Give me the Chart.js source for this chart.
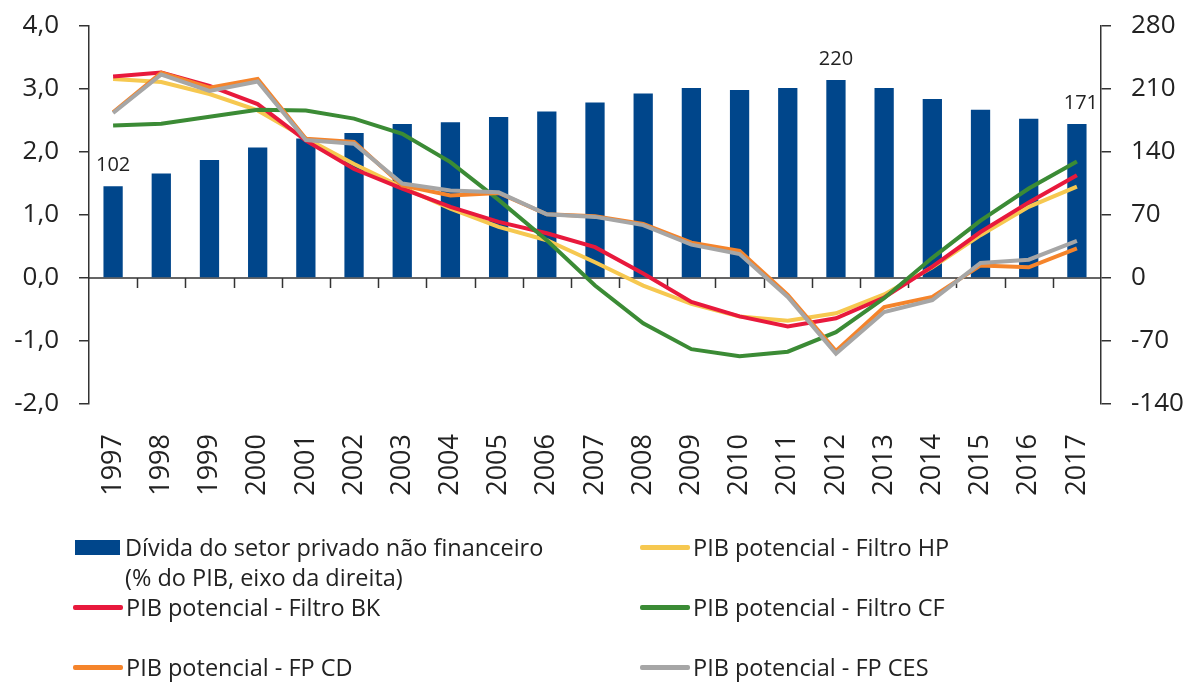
<!DOCTYPE html>
<html>
<head>
<meta charset="utf-8">
<script src="https://cdn.jsdelivr.net/npm/chart.js@4.4.1/dist/chart.umd.min.js"></script>
<style>
  html, body { margin: 0; padding: 0; background: #fff; }
  #wrap { position: relative; width: 1197px; height: 682px; }
  #legend { position: absolute; left: 0; top: 0; width: 1197px; height: 682px; pointer-events: none;
            font-family: 'Open Sans', sans-serif; font-size: 23.5px; color: #222; }
  .item { position: absolute; display: flex; align-items: center; white-space: nowrap; }
  .swatch { display: inline-block; margin-right: 3px; }
  .sub { position: absolute; white-space: nowrap; }
</style>
</head>
<body>
<div id="wrap">
  <canvas id="chart" width="1197" height="682"></canvas>
  <div id="legend"></div>
</div>
<script>
// --- data ---
const years = ['1997', '1998', '1999', '2000', '2001', '2002', '2003', '2004', '2005', '2006', '2007',
               '2008', '2009', '2010', '2011', '2012', '2013', '2014', '2015', '2016', '2017'];

// % do PIB (eixo da direita)
const debtValues = [102, 116, 131, 145, 155, 161, 171, 173, 179, 185, 195,
                    205, 211, 209, 211, 220, 211, 199, 187, 177, 171];

const hpValues  = [3.16, 3.11, 2.92, 2.66, 2.22, 1.81, 1.44, 1.10, 0.81, 0.60, 0.25,
                   -0.12, -0.41, -0.61, -0.68, -0.56, -0.26, 0.17, 0.68, 1.13, 1.45];
const bkValues  = [3.20, 3.26, 3.05, 2.76, 2.18, 1.73, 1.42, 1.13, 0.89, 0.71, 0.49,
                   0.07, -0.38, -0.61, -0.77, -0.64, -0.31, 0.18, 0.73, 1.20, 1.63];
const cfValues  = [2.42, 2.45, 2.56, 2.67, 2.66, 2.53, 2.29, 1.84, 1.24, 0.60, -0.12,
                   -0.72, -1.13, -1.24, -1.17, -0.86, -0.32, 0.32, 0.91, 1.42, 1.85];
const cdValues  = [2.63, 3.26, 3.02, 3.16, 2.21, 2.16, 1.47, 1.31, 1.35, 1.01, 0.98,
                   0.86, 0.56, 0.43, -0.27, -1.16, -0.46, -0.30, 0.20, 0.17, 0.47];
const cesValues = [2.62, 3.23, 2.97, 3.12, 2.19, 2.13, 1.50, 1.39, 1.36, 1.01, 0.97,
                   0.84, 0.53, 0.38, -0.30, -1.20, -0.54, -0.35, 0.24, 0.29, 0.59];

const leftTicks  = [-2, -1, 0, 1, 2, 3, 4];
const rightTicks = [-140, -70, 0, 70, 140, 210, 280];
const labelledBars = [0, 15, 20]; // 1997, 2012, 2017 carry a value label

const FONT = "'Open Sans', sans-serif";
const AXIS = '#333333';
const TEXT = '#222222';

// zero line with the little category ticks hanging under it
const zeroLinePlugin = {
  id: 'zeroLine',
  beforeDatasetsDraw(chart) {
    const { ctx, chartArea, scales } = chart;
    const y0 = scales.y.getPixelForValue(0);
    const half = (scales.x.getPixelForValue(1) - scales.x.getPixelForValue(0)) / 2;
    ctx.save();
    ctx.strokeStyle = AXIS;
    ctx.lineWidth = 1.5;
    ctx.beginPath();
    ctx.moveTo(chartArea.left, y0);
    ctx.lineTo(chartArea.right, y0);
    for (let i = 0; i < years.length - 1; i++) {
      const x = Math.round(scales.x.getPixelForValue(i) + half) + 0.5;
      ctx.moveTo(x, y0);
      ctx.lineTo(x, y0 + 10);
    }
    ctx.stroke();
    ctx.restore();
  }
};

// value labels over a few bars
const barLabelPlugin = {
  id: 'barLabels',
  afterDatasetsDraw(chart) {
    const { ctx } = chart;
    const meta = chart.getDatasetMeta(0);
    ctx.save();
    ctx.fillStyle = TEXT;
    ctx.font = `20px ${FONT}`;
    ctx.textAlign = 'center';
    ctx.textBaseline = 'alphabetic';
    labelledBars.forEach(i => {
      const bar = meta.data[i];
      ctx.fillText(String(debtValues[i]), bar.x + (i === 20 ? 4 : 0), bar.y - 15);
    });
    ctx.restore();
  }
};

const lineDefaults = { type: 'line', yAxisID: 'y', borderWidth: 4, pointRadius: 0,
                       pointHoverRadius: 0, tension: 0, fill: false };

const datasets = [
  { type: 'bar', label: 'Dívida do setor privado não financeiro', sub: '(% do PIB, eixo da direita)',
    data: debtValues, yAxisID: 'y1', backgroundColor: '#00468b', borderWidth: 0,
    categoryPercentage: 1, barPercentage: 0.4, order: 10 },
  { ...lineDefaults, label: 'PIB potencial - Filtro HP', data: hpValues, borderColor: '#f6c850', order: 5 },
  { ...lineDefaults, label: 'PIB potencial - Filtro BK', data: bkValues, borderColor: '#e8193c', order: 4 },
  { ...lineDefaults, label: 'PIB potencial - Filtro CF', data: cfValues, borderColor: '#3b8b35', order: 3 },
  { ...lineDefaults, label: 'PIB potencial - FP CD', data: cdValues, borderColor: '#f5842b', order: 2 },
  { ...lineDefaults, label: 'PIB potencial - FP CES', data: cesValues, borderColor: '#a6a6a6', order: 1 }
];

// y axes: fixed widths, no extra room for half tick labels
function fitY(width) {
  return s => { s.width = width; s.paddingTop = 0; s.paddingBottom = 0; };
}

const ctx = document.getElementById('chart').getContext('2d');
const chart = new Chart(ctx, {
  data: { labels: years, datasets },
  options: {
    responsive: false,
    animation: false,
    layout: { padding: { top: 26, left: 0, right: 0, bottom: 0 } },
    plugins: { legend: { display: false }, tooltip: { enabled: false } },
    scales: {
      x: {
        type: 'category',
        offset: true,
        grid: { display: false },
        border: { display: false },
        ticks: { color: TEXT, font: { family: FONT, size: 27 }, minRotation: 90, maxRotation: 90,
                 padding: 22, autoSkip: false },
        afterFit: s => { s.height = 278; s.paddingLeft = 0; s.paddingRight = 0; }
      },
      y: {
        position: 'left',
        min: leftTicks[0], max: leftTicks[leftTicks.length - 1],
        ticks: { stepSize: 1, color: TEXT, font: { family: FONT, size: 26 }, padding: 20,
                 callback: v => v.toFixed(1).replace('.', ',') },
        grid: { drawOnChartArea: false, drawTicks: true, tickLength: 10, color: AXIS, lineWidth: 1.5 },
        border: { display: true, color: AXIS, width: 1.5 },
        afterFit: fitY(89)
      },
      y1: {
        position: 'right',
        min: rightTicks[0], max: rightTicks[rightTicks.length - 1],
        ticks: { stepSize: 70, color: TEXT, font: { family: FONT, size: 26 }, padding: 20 },
        grid: { drawOnChartArea: false, drawTicks: true, tickLength: 10, color: AXIS, lineWidth: 1.5 },
        border: { display: true, color: AXIS, width: 1.5 },
        afterFit: fitY(96)
      }
    }
  },
  plugins: [zeroLinePlugin, barLabelPlugin]
});

// --- legend (two columns, drawn from the datasets) ---
const legendEl = document.getElementById('legend');
const slots = [
  { left: 73, top: 547 }, { left: 640, top: 547 },
  { left: 73, top: 607 }, { left: 640, top: 607 },
  { left: 73, top: 667 }, { left: 640, top: 667 }
];
datasets.forEach((ds, i) => {
  const item = document.createElement('div');
  item.className = 'item';
  item.style.left = slots[i].left + 'px';
  item.style.top = (slots[i].top - 16) + 'px';
  item.style.height = '32px';
  const sw = document.createElement('span');
  sw.className = 'swatch';
  if (ds.type === 'bar') {
    sw.style.width = '45px'; sw.style.height = '15px'; sw.style.background = ds.backgroundColor;
    sw.style.marginLeft = '2px'; sw.style.marginRight = '5px';
  } else {
    sw.style.width = '50px'; sw.style.height = '5px'; sw.style.background = ds.borderColor;
    sw.style.borderRadius = '2px';
  }
  item.appendChild(sw);
  const txt = document.createElement('span');
  txt.textContent = ds.label;
  item.appendChild(txt);
  legendEl.appendChild(item);
  if (ds.sub) {
    const sub = document.createElement('div');
    sub.className = 'sub';
    sub.style.left = '125px';
    sub.style.top = (slots[i].top + 14) + 'px';
    sub.textContent = ds.sub;
    legendEl.appendChild(sub);
  }
});
</script>
</body>
</html>
